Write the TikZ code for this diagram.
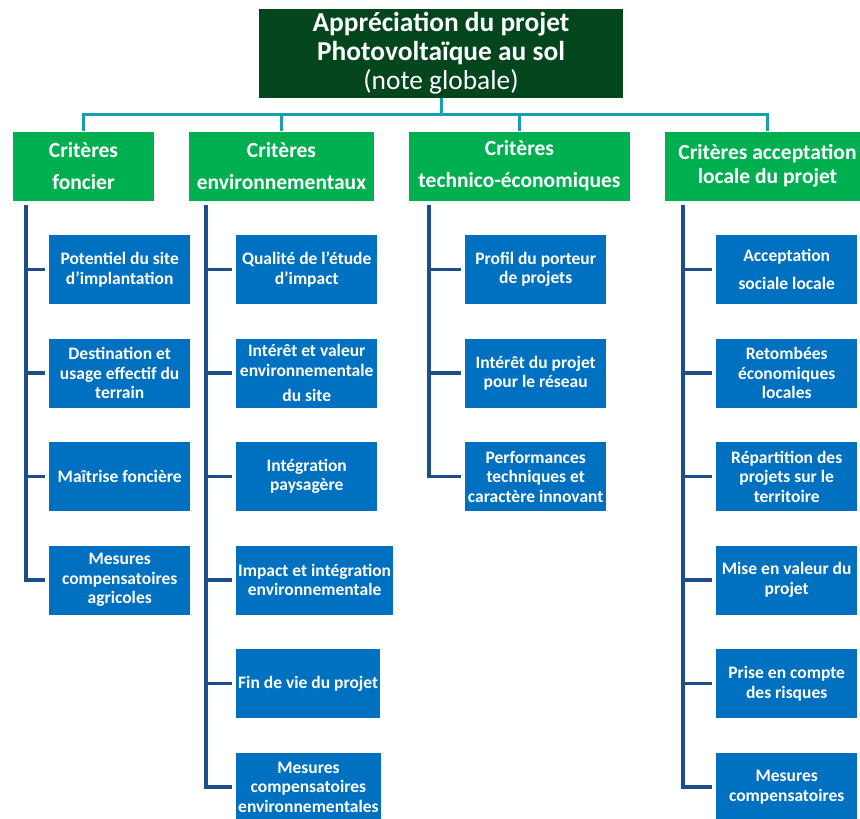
\documentclass[tikz,border=0pt]{standalone}
\usepackage{fontspec}
\setmainfont{Carlito}
\definecolor{darkgreen}{RGB}{3,70,30}
\definecolor{critgreen}{RGB}{0,176,80}
\definecolor{leafblue}{RGB}{0,112,192}
\definecolor{linkblue}{RGB}{28,78,140}
\definecolor{busteal}{RGB}{20,160,172}
\begin{document}
\begin{tikzpicture}[x=1pt,y=-1pt,
    topbox/.style={fill=darkgreen,text=white,minimum width=364pt,minimum height=89pt,
      align=center,font=\fontsize{27.4}{29}\selectfont\bfseries},
    crit/.style={fill=critgreen,text=white,minimum height=69pt,align=center,
      font=\fontsize{21.5}{24}\selectfont\bfseries},
    leaf/.style={fill=leafblue,text=white,anchor=west,minimum width=141pt,minimum height=69pt,
      inner xsep=2pt,align=center,font=\fontsize{17.5}{19.5}\selectfont\bfseries},
    bus/.style={draw=busteal,line width=3pt},
    link/.style={draw=linkblue,line width=3.5pt,shorten >=4pt}]
  \useasboundingbox (0,0) rectangle (860,819);

  % head and criteria
  \node[topbox] (top) at (441,53) {Appréciation du projet\\Photovoltaïque au sol\\{\mdseries (note globale)}};
  \node[crit,minimum width=141pt] (c1) at (83.5,166) {Critères\\[8pt]foncier};
  \node[crit,minimum width=185pt] (c2) at (281.5,166) {Critères\\[8pt]environnementaux};
  \node[crit,minimum width=221pt] (c3) at (519.5,166) {Critères\\[8pt]technico-économiques};
  \node[crit,minimum width=205pt] (c4) at (767.5,166) {Critères acceptation\\locale du projet};

  \coordinate (bus) at (441,114);
  \draw[bus] (top.south) -- (bus);
  \foreach \c in {c1,c2,c3,c4}
    \draw[bus] (bus) -| (\c.north);

  % trunks
  \coordinate (t1) at (26,205);
  \coordinate (t2) at (206,205);
  \coordinate (t3) at (429,205);
  \coordinate (t4) at (683,205);

  \foreach \txt [count=\i] in {{Potentiel du site\\d’implantation},
      {Destination et\\usage effectif du\\terrain},
      {Maîtrise foncière},
      {Mesures\\compensatoires\\agricoles}}{
    \node[leaf] (f\i) at (49,{269.5+103.5*(\i-1)}) {\txt};
    \draw[link] (t1) |- (f\i.west);
  }

  \foreach \txt [count=\i] in {{Qualité de l’étude\\d’impact},
      {Intérêt et valeur\\environnementale\\[6pt]du site},
      {Intégration\\paysagère},
      {Impact et intégration\\environnementale},
      {Fin de vie du projet},
      {Mesures\\compensatoires\\environnementales}}{
    \node[leaf] (e\i) at (236,{269.5+103.5*(\i-1)}) {\txt};
    \draw[link] (t2) |- (e\i.west);
  }

  \foreach \txt [count=\i] in {{Profil du porteur\\de projets},
      {Intérêt du projet\\pour le réseau},
      {Performances\\techniques et\\caractère innovant}}{
    \node[leaf] (te\i) at (465,{269.5+103.5*(\i-1)}) {\txt};
    \draw[link] (t3) |- (te\i.west);
  }

  \foreach \txt [count=\i] in {{Acceptation\\[8pt]sociale locale},
      {Retombées\\économiques\\locales},
      {Répartition des\\projets sur le\\territoire},
      {Mise en valeur du\\projet},
      {Prise en compte\\des risques},
      {Mesures\\compensatoires}}{
    \node[leaf] (a\i) at (716,{269.5+103.5*(\i-1)}) {\txt};
    \draw[link] (t4) |- (a\i.west);
  }
\end{tikzpicture}
\end{document}
